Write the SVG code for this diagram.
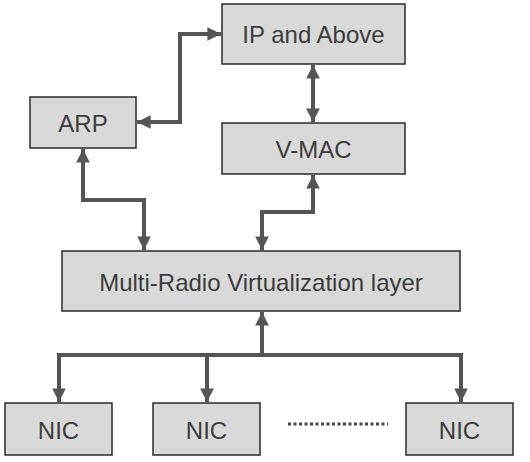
<svg xmlns="http://www.w3.org/2000/svg" width="530" height="462" viewBox="0 0 530 462">
<style>
.box{fill:#d9d9d9;stroke:#2a2a2a;stroke-width:1.5}
.lbl{font-family:"Liberation Sans",Arial,sans-serif;font-size:24px;fill:#3c3c3c;text-anchor:middle;dominant-baseline:central}
.c{fill:none;stroke:#555;stroke-width:4}
</style>
<defs>
<marker id="ah" viewBox="0 0 10 10" refX="10" refY="5" markerWidth="3.6" markerHeight="3.4" markerUnits="strokeWidth" orient="auto-start-reverse">
<path d="M0,0 L10,5 L0,10 z" fill="#555"/>
</marker>
</defs>
<rect width="530" height="462" fill="#fff"/>
<g id="connectors">
<path class="c" d="M137,122 H180 V34 H221" marker-start="url(#ah)" marker-end="url(#ah)"/>
<path class="c" d="M313,65 V122" marker-start="url(#ah)" marker-end="url(#ah)"/>
<path class="c" d="M83,149 V200 H144 V250" marker-start="url(#ah)" marker-end="url(#ah)"/>
<path class="c" d="M313,175 V212 H262 V250" marker-start="url(#ah)" marker-end="url(#ah)"/>
<path class="c" d="M262,312 V355"  marker-start="url(#ah)"/>
<path class="c" d="M59,402 V355 H461 V402" marker-start="url(#ah)" marker-end="url(#ah)"/>
<path class="c" d="M207,355 V402" marker-end="url(#ah)"/>
<path d="M288,424 H388" fill="none" stroke="#444" stroke-width="3" stroke-dasharray="3,2.5"/>
</g>
<g id="ip"><rect class="box" x="222" y="4" width="183" height="60"/><text class="lbl" x="313.5" y="34">IP and Above</text></g>
<g id="arp"><rect class="box" x="30" y="97" width="106" height="51"/><text class="lbl" x="83" y="123">ARP</text></g>
<g id="vmac"><rect class="box" x="222" y="123" width="183" height="51"/><text class="lbl" x="313.5" y="149">V-MAC</text></g>
<g id="mrv"><rect class="box" x="62" y="251" width="398" height="60"/><text class="lbl" x="261" y="282">Multi-Radio Virtualization layer</text></g>
<g id="nic1"><rect class="box" x="5" y="403" width="107" height="52"/><text class="lbl" x="58.5" y="430">NIC</text></g>
<g id="nic2"><rect class="box" x="153" y="403" width="107" height="52"/><text class="lbl" x="206.5" y="430">NIC</text></g>
<g id="nic3"><rect class="box" x="406" y="403" width="107" height="52"/><text class="lbl" x="459.5" y="430">NIC</text></g>
</svg>
